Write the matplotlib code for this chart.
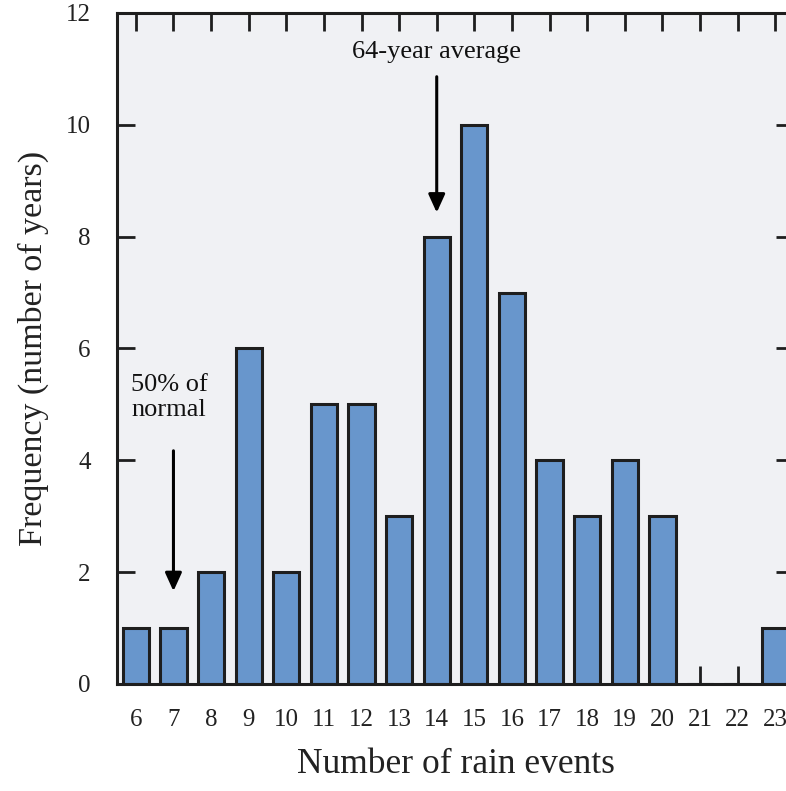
import matplotlib.pyplot as plt
import numpy as np

# rain events per year -> how many years had that count
events = [6, 7, 8, 9, 10, 11, 12, 13, 14, 15, 16, 17, 18, 19, 20, 21, 22, 23]
years = [1, 1, 2, 6, 2, 5, 5, 3, 8, 10, 7, 4, 3, 4, 3, 0, 0, 1]
y_ticks = [0, 2, 4, 6, 8, 10, 12]

bar_color = '#6896CC'
edge_color = '#1e1e1e'

plt.rcParams['font.family'] = ['Liberation Serif', 'DejaVu Serif']

fig = plt.figure(figsize=(7.86, 7.91), dpi=100)
ax = fig.add_axes([0.1489, 0.1353, 0.8613, 0.8483])
ax.set_facecolor('#F0F1F4')
ax.set_axisbelow(True)

ax.bar(events, years, width=0.7, color=bar_color, edgecolor=edge_color, linewidth=2.2)

ax.set_xlim(5.5, 23.5)
ax.set_ylim(0, 12)
ax.set_xticks(events)
ax.set_yticks(y_ticks)

ax.tick_params(axis='both', direction='in', length=13, width=2.0, color=edge_color,
               labelsize=18, labelcolor='#222222')
ax.tick_params(axis='x', top=True, pad=18)
ax.tick_params(axis='y', right=True, pad=19)

for side in ['left', 'top', 'bottom', 'right']:
    ax.spines[side].set_linewidth(2.2)
    ax.spines[side].set_color(edge_color)

ax.set_xlabel('Number of rain events', fontsize=25.5, labelpad=12, color='#222222')
ax.set_ylabel('Frequency (number of years)', fontsize=24.5, labelpad=12, color='#222222')

arrow_style = dict(arrowstyle='-|>,head_length=1.1,head_width=0.5',
                   color='black', lw=2.2, shrinkA=0, shrinkB=0)

# arrow to the 64-year average
ax.annotate('', xy=(14, 8.43), xytext=(14, 10.86), arrowprops=arrow_style)
ax.text(14, 11.3, '64-year average', ha='center', va='center', fontsize=19, color='#111111')

# arrow to the 50%-of-normal year
ax.annotate('', xy=(7, 1.66), xytext=(7, 4.17), arrowprops=arrow_style)
ax.text(5.88, 5.12, '50% of\nnormal', ha='left', va='center', fontsize=19,
        linespacing=1.15, color='#111111')

plt.savefig('out.png', dpi=100)
